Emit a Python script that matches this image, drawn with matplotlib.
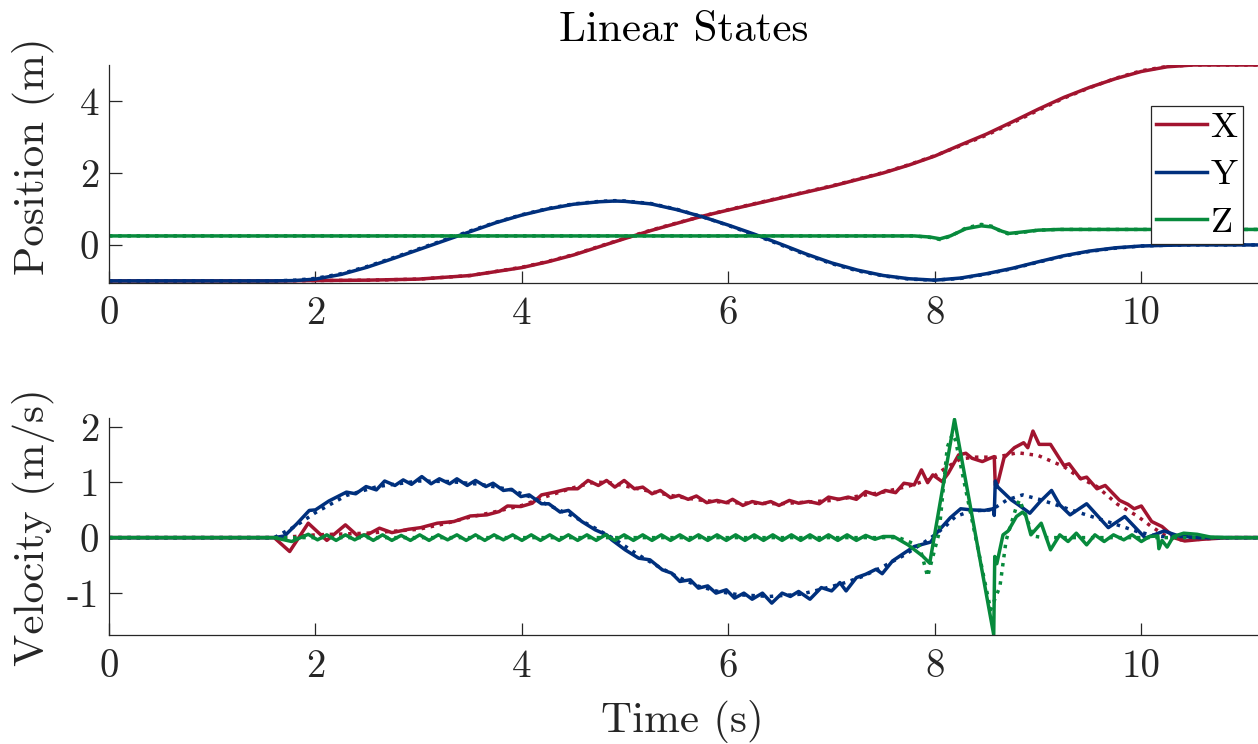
import matplotlib
matplotlib.use("Agg")
import matplotlib.pyplot as plt

plt.rcParams["font.family"] = "cmr10"
plt.rcParams["mathtext.fontset"] = "cm"
plt.rcParams["axes.unicode_minus"] = False
plt.rcParams["axes.formatter.use_mathtext"] = False

# position (m) -- solid = measured, dotted = reference
t_px = [0, 1.6, 2.0, 2.5, 3.0, 3.5, 4.0, 4.25, 4.5, 4.75, 5.0, 5.25, 5.5, 5.75, 6.0,
        6.5, 7.0, 7.5, 7.75, 8.0, 8.25, 8.5, 8.75, 9.0, 9.25, 9.5, 9.75, 10.0, 10.25, 10.5, 11.13]
pos_x = [-1.0, -1.0, -0.99, -0.98, -0.95, -0.85, -0.63, -0.47, -0.28, -0.05, 0.18, 0.4, 0.6, 0.8, 0.97,
         1.3, 1.63, 2.0, 2.22, 2.47, 2.78, 3.08, 3.42, 3.77, 4.1, 4.38, 4.62, 4.82, 4.95, 5.0, 5.0]
pos_x_ref = [-1.0, -1.0, -0.99, -0.98, -0.95, -0.85, -0.62, -0.46, -0.27, -0.04, 0.19, 0.41, 0.61, 0.8, 0.98,
             1.31, 1.64, 2.01, 2.23, 2.48, 2.76, 3.05, 3.39, 3.74, 4.08, 4.37, 4.63, 4.84, 4.96, 5.0, 5.0]

t_py = [0, 1.6, 1.8, 2.0, 2.25, 2.5, 2.75, 3.0, 3.25, 3.5, 3.75, 4.0, 4.25, 4.5, 4.75, 4.9, 5.0,
        5.25, 5.5, 5.75, 6.0, 6.25, 6.5, 6.75, 7.0, 7.25, 7.5, 7.75, 8.0, 8.25, 8.5, 8.75,
        9.0, 9.25, 9.5, 9.75, 10.0, 10.25, 10.5, 11.13]
pos_y = [-1.0, -1.0, -0.99, -0.95, -0.82, -0.62, -0.38, -0.13, 0.12, 0.37, 0.62, 0.83, 1.0, 1.13, 1.2, 1.22, 1.21,
         1.14, 0.98, 0.78, 0.55, 0.3, 0.03, -0.25, -0.5, -0.7, -0.85, -0.94, -0.98, -0.92, -0.8, -0.65,
         -0.47, -0.3, -0.17, -0.08, -0.03, -0.01, 0.0, 0.0]
pos_y_ref = [-1.0, -1.0, -0.98, -0.93, -0.8, -0.6, -0.36, -0.11, 0.14, 0.39, 0.63, 0.84, 1.01, 1.14, 1.21, 1.23, 1.22,
             1.15, 0.99, 0.78, 0.54, 0.28, 0.01, -0.27, -0.52, -0.72, -0.86, -0.95, -0.98, -0.93, -0.81, -0.66,
             -0.48, -0.31, -0.18, -0.09, -0.03, -0.01, 0.0, 0.0]

t_pz = [0, 7.8, 7.95, 8.05, 8.15, 8.3, 8.45, 8.55, 8.65, 8.72, 8.85, 9.0, 9.2, 9.5, 11.13]
pos_z = [0.25, 0.25, 0.22, 0.17, 0.25, 0.45, 0.53, 0.5, 0.38, 0.32, 0.36, 0.41, 0.43, 0.43, 0.43]
pos_z_ref = [0.25, 0.25, 0.21, 0.15, 0.24, 0.47, 0.57, 0.52, 0.36, 0.3, 0.35, 0.41, 0.43, 0.43, 0.43]

# velocity (m/s)
t_vx = [0, 1.6, 1.75, 1.93, 2.11, 2.29, 2.41, 2.5, 2.62, 2.74, 2.9, 3.02, 3.18, 3.34, 3.5, 3.66,
        3.78, 3.86, 3.99, 4.1, 4.19, 4.32, 4.45, 4.54, 4.64, 4.74, 4.82, 4.9, 4.99, 5.09, 5.17,
        5.26, 5.34, 5.44, 5.52, 5.61, 5.69, 5.79, 5.89, 5.98, 6.04, 6.14, 6.23, 6.33, 6.41, 6.49,
        6.59, 6.68, 6.78, 6.88, 6.97, 7.07, 7.16, 7.24, 7.33, 7.43, 7.52, 7.62, 7.7, 7.8, 7.87,
        7.93, 7.98, 8.07, 8.13, 8.23, 8.3, 8.36, 8.46, 8.52, 8.575, 8.585, 8.61, 8.67, 8.77, 8.86,
        8.9, 8.95, 9.01, 9.12, 9.25, 9.3, 9.41, 9.47, 9.57, 9.65, 9.79, 9.87, 9.93, 10.0, 10.1,
        10.2, 10.33, 10.42, 10.59, 10.85, 11.13]
vel_x = [0, 0, -0.25, 0.26, -0.05, 0.23, 0.03, 0.05, 0.17, 0.09, 0.15, 0.18, 0.26, 0.29, 0.39, 0.41,
         0.47, 0.57, 0.56, 0.62, 0.77, 0.82, 0.88, 0.88, 1.03, 0.94, 1.03, 0.91, 1.03, 0.88, 0.91,
         0.79, 0.85, 0.72, 0.76, 0.69, 0.75, 0.63, 0.67, 0.63, 0.69, 0.58, 0.65, 0.61, 0.65, 0.58,
         0.67, 0.62, 0.65, 0.61, 0.73, 0.69, 0.73, 0.69, 0.83, 0.77, 0.85, 0.81, 0.98, 0.95, 1.22,
         0.99, 1.13, 1.01, 1.16, 1.49, 1.52, 1.43, 1.37, 1.42, 1.46, 0.95, 0.99, 1.44, 1.62, 1.71,
         1.62, 1.92, 1.68, 1.68, 1.3, 1.33, 1.06, 1.09, 0.88, 0.94, 0.67, 0.6, 0.52, 0.57, 0.29,
         0.2, -0.01, -0.06, -0.03, 0, 0]
t_vx_ref = [0, 1.6, 1.8, 2.0, 2.5, 3.0, 3.25, 3.5, 3.75, 4.0, 4.25, 4.5, 4.7, 4.85, 5.0, 5.25, 5.5,
            5.75, 6.0, 6.5, 7.0, 7.5, 7.75, 7.95, 8.1, 8.25, 8.4, 8.6, 8.8, 9.0, 9.25, 9.41, 9.57,
            9.77, 9.96, 10.09, 10.22, 10.35, 10.5, 10.7, 10.9, 11.13]
vel_x_ref = [0, 0, 0.02, 0.05, 0.08, 0.15, 0.25, 0.37, 0.47, 0.58, 0.75, 0.9, 1.0, 0.99, 0.93, 0.83, 0.74,
             0.67, 0.63, 0.61, 0.67, 0.82, 0.93, 1.05, 1.25, 1.42, 1.45, 1.45, 1.53, 1.48, 1.28, 1.07, 0.92,
             0.6, 0.39, 0.21, 0.05, -0.04, -0.04, -0.01, 0, 0]

t_vy = [0, 1.6, 1.7, 1.82, 1.94, 2.0, 2.13, 2.3, 2.39, 2.49, 2.59, 2.67, 2.77, 2.85, 2.93, 3.03,
        3.12, 3.2, 3.3, 3.37, 3.47, 3.55, 3.65, 3.72, 3.82, 3.9, 3.99, 4.07, 4.19, 4.26, 4.37, 4.45,
        4.58, 4.71, 4.82, 4.87, 5.0, 5.13, 5.24, 5.36, 5.45, 5.53, 5.63, 5.71, 5.8, 5.88, 5.98, 6.06,
        6.15, 6.23, 6.33, 6.42, 6.52, 6.6, 6.68, 6.79, 6.9, 7.0, 7.08, 7.14, 7.24, 7.33, 7.43, 7.49,
        7.59, 7.71, 7.8, 7.88, 7.96, 8.02, 8.15, 8.25, 8.35, 8.48, 8.565, 8.575, 8.585, 8.61, 8.74,
        8.81, 8.92, 9.02, 9.13, 9.21, 9.31, 9.47, 9.68, 9.84, 10.04, 10.22, 10.36, 10.55, 11.13]
vel_y = [0, 0, 0.03, 0.25, 0.49, 0.5, 0.66, 0.82, 0.79, 0.92, 0.86, 1.02, 0.94, 1.04, 0.96, 1.1,
         0.97, 1.06, 0.97, 1.06, 0.94, 1.03, 0.92, 0.98, 0.85, 0.87, 0.74, 0.77, 0.61, 0.61, 0.46, 0.49,
         0.29, 0.14, 0.05, -0.04, -0.22, -0.37, -0.4, -0.58, -0.64, -0.79, -0.76, -0.91, -0.87, -1.0, -0.94, -1.09,
         -1.0, -1.11, -1.0, -1.18, -1.0, -1.06, -0.97, -1.11, -0.9, -0.96, -0.81, -0.96, -0.72, -0.66, -0.57, -0.65,
         -0.42, -0.27, -0.16, -0.12, -0.08, 0.09, 0.36, 0.52, 0.5, 0.49, 0.52, 0.4, 1.02, 0.91, 0.68,
         0.59, 0.44, 0.65, 0.85, 0.59, 0.41, 0.61, 0.18, 0.38, -0.01, 0.12, 0.03, 0, 0]
t_vy_ref = [0, 1.6, 1.8, 2.0, 2.3, 2.6, 3.0, 3.3, 3.6, 3.9, 4.1, 4.3, 4.5, 4.7, 4.9, 5.1, 5.3, 5.5,
            5.7, 5.9, 6.1, 6.4, 6.7, 6.9, 7.1, 7.3, 7.5, 7.7, 7.9, 8.0, 8.1, 8.2, 8.35, 8.55, 8.7,
            8.85, 9.03, 9.35, 9.67, 9.96, 10.09, 10.2, 10.4, 10.6, 11.13]
vel_y_ref = [0, 0, 0.2, 0.45, 0.76, 0.92, 1.02, 1.01, 0.96, 0.86, 0.72, 0.55, 0.38, 0.18, -0.03, -0.28, -0.5, -0.7,
             -0.87, -0.97, -1.03, -1.06, -1.02, -0.93, -0.83, -0.7, -0.52, -0.32, -0.08, 0.05, 0.2, 0.38, 0.48, 0.5, 0.68,
             0.77, 0.68, 0.48, 0.29, 0.11, 0.05, 0.02, 0.02, 0, 0]

t_vz = [0, 1.6, 1.77, 1.93, 2.02, 2.11, 2.2, 2.29, 2.38, 2.47, 2.56, 2.65, 2.74, 2.83, 2.92, 3.01,
        3.1, 3.19, 3.28, 3.37, 3.46, 3.55, 3.64, 3.73, 3.82, 3.91, 4.0, 4.09, 4.18, 4.27, 4.36, 4.45,
        4.54, 4.63, 4.72, 4.81, 4.9, 4.99, 5.08, 5.17, 5.26, 5.35, 5.44, 5.53, 5.62, 5.71, 5.8, 5.89,
        5.98, 6.07, 6.16, 6.25, 6.34, 6.43, 6.52, 6.61, 6.7, 6.79, 6.88, 6.97, 7.06, 7.15, 7.24, 7.33,
        7.42, 7.5, 7.6, 7.74, 7.88, 7.95, 8.19, 8.57, 8.58, 8.6, 8.66, 8.71, 8.79, 8.85, 8.88, 8.93,
        9.03, 9.12, 9.21, 9.29, 9.37, 9.47, 9.55, 9.64, 9.73, 9.83, 9.91, 10.0, 10.08, 10.16, 10.17,
        10.2, 10.25, 10.31, 10.41, 10.54, 10.67, 10.85, 11.13]
vel_z = [0, 0, -0.07, 0.06, -0.04, 0.05, -0.05, 0.05, -0.04, 0.05, -0.05, 0.05, -0.05, 0.04, -0.05, 0.05,
         -0.05, 0.05, -0.04, 0.05, -0.05, 0.05, -0.05, 0.05, -0.04, 0.05, -0.05, 0.05, -0.05, 0.05, -0.05, 0.05,
         -0.05, 0.05, -0.05, 0.05, -0.05, 0.05, -0.05, 0.05, -0.05, 0.05, -0.05, 0.05, -0.05, 0.05, -0.05, 0.05,
         -0.05, 0.05, -0.05, 0.05, -0.05, 0.05, -0.05, 0.05, -0.05, 0.05, -0.05, 0.05, -0.05, 0.05, -0.05, 0.04,
         -0.03, 0.02, 0.02, -0.13, -0.33, -0.46, 2.13, -1.75, -0.34, -0.47, 0.05, 0.12, 0.38, 0.46, 0.4, 0.05,
         0.26, -0.22, 0.05, -0.07, 0.08, -0.13, 0.05, -0.07, 0.05, -0.04, 0.05, -0.07, 0.02, 0.03, -0.2,
         -0.05, -0.17, 0.02, 0.08, 0.06, 0.01, 0, 0]
t_vz_ref = [0, 7.65, 7.85, 7.93, 8.04, 8.12, 8.17, 8.2, 8.54, 8.63, 8.69, 8.79, 8.82, 8.88, 8.95, 9.05, 11.13]
vel_z_ref = [0, 0, -0.15, -0.7, 0.08, 1.63, 1.87, 1.75, -1.3, -0.88, -0.05, 0.56, 0.68, 0.4, 0.03, 0, 0]

labels = ["X", "Y", "Z"]
colors = ["#A2142F", "#00307D", "#078A3C"]
axis_col = "#262626"
W, H = 1258, 744

fig = plt.figure(figsize=(W / 100, H / 100), dpi=100)
ax1 = fig.add_axes([109 / W, 1 - 282.7 / H, (W - 109) / W, (282.7 - 65) / H])
ax2 = fig.add_axes([109 / W, 1 - 635.3 / H, (W - 109) / W, (635.3 - 418.3) / H])

lw = 2.5
pos = [(t_px, pos_x, pos_x_ref), (t_py, pos_y, pos_y_ref), (t_pz, pos_z, pos_z_ref)]
vel = [(t_vx, vel_x, t_vx_ref, vel_x_ref), (t_vy, vel_y, t_vy_ref, vel_y_ref),
       (t_vz, vel_z, t_vz_ref, vel_z_ref)]

handles = []
for (t, p, pr), c, lab in zip(pos, colors, labels):
    h, = ax1.plot(t, p, color=c, lw=lw, label=lab)
    ax1.plot(t, pr, color=c, lw=lw, ls=":")
    handles.append(h)

for (t, v, tr, vr), c in zip(vel, colors):
    ax2.plot(t, v, color=c, lw=lw)
    ax2.plot(tr, vr, color=c, lw=lw, ls=":")

for ax in (ax1, ax2):
    ax.set_xlim(0, 11.13)
    ax.set_xticks([0, 2, 4, 6, 8, 10])
    for s in ("top", "right"):
        ax.spines[s].set_visible(False)
    for s in ("left", "bottom"):
        ax.spines[s].set_color(axis_col)
        ax.spines[s].set_linewidth(0.9)
    ax.tick_params(direction="in", length=9, width=0.9, colors=axis_col, labelsize=28)
    ax.tick_params(axis="x", pad=10)
    ax.tick_params(axis="y", pad=7)

ax1.set_ylim(-1.05, 5.0)
ax1.set_yticks([0, 2, 4])
ax2.set_ylim(-1.76, 2.15)
ax2.set_yticks([-1, 0, 1, 2])

ax1.set_title("Linear States", fontsize=31, pad=17, color="black")
ax1.set_ylabel("Position (m)", fontsize=31, color=axis_col)
ax1.yaxis.set_label_coords(-0.047, 0.582)
ax2.set_ylabel("Velocity (m/s)", fontsize=31, color=axis_col)
ax2.yaxis.set_label_coords(-0.047, 0.5)
ax2.set_xlabel("Time (s)", fontsize=31, color=axis_col)
ax2.xaxis.set_label_coords(0.499, -0.3)

leg = ax1.legend(handles, labels, loc="upper right", bbox_to_anchor=(1243 / W, 1 - 106 / H),
                 bbox_transform=fig.transFigure, fontsize=26, fancybox=False, framealpha=1,
                 edgecolor=axis_col, handlelength=1.4, handletextpad=0.1, labelspacing=0.42,
                 borderpad=0.15, borderaxespad=0)
leg.get_frame().set_linewidth(0.9)

fig.savefig("out.png", dpi=100)
